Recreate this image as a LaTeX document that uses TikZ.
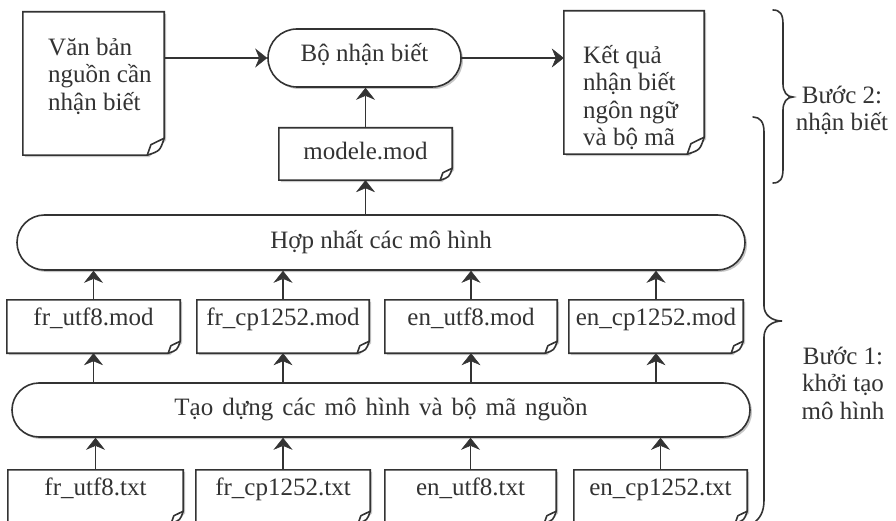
\documentclass[tikz,border=0pt]{standalone}
\usepackage{fontspec}
\setmainfont{Liberation Serif}
\usetikzlibrary{arrows.meta,backgrounds,shadows,calc}
\colorlet{ink}{black!80}
\tikzset{
  line/.style={draw=ink, line width=1.6pt},
  arr/.style={draw=ink, fill=ink, line width=1.6pt,
    arrows={-Stealth[length=12pt,width=19pt,inset=4pt,line width=0.5pt]}},
  txt/.style={font=\fontsize{25}{27.5}\selectfont, text=ink},
  filebox/.style={txt, inner sep=0pt, minimum height=53pt, text height=25pt, text depth=28pt},
  term/.style={txt, line, fill=white, inner sep=0pt,
    drop shadow={shadow xshift=2pt, shadow yshift=-2pt, fill=gray!45, opacity=1}},
  label/.style={txt, inner sep=0pt, anchor=north},
}
% document outline with a curled corner: #1 node name, #2 corner size
\newcommand\docshape[2]{%
  \fill[gray!40] ([xshift=2pt,yshift=-2pt]#1.north west) -- ([xshift=2pt,yshift=-2pt]#1.north east)
     -- ([xshift=2pt,yshift=#2pt-2pt]#1.south east) -- ([xshift=-#2pt+2pt,yshift=-2pt]#1.south east)
     -- ([xshift=2pt,yshift=-2pt]#1.south west) -- cycle;
  \draw[line, fill=white] (#1.north west) -- (#1.north east) -- ([yshift=#2pt]#1.south east)
     .. controls ([xshift=-0.25*#2pt,yshift=0.25*#2pt]#1.south east) .. ([xshift=-#2pt]#1.south east)
     -- (#1.south west) -- cycle;
  \draw[line, line join=round] ([yshift=#2pt]#1.south east) -- ([xshift=-0.78*#2pt,yshift=0.62*#2pt]#1.south east)
     -- ([xshift=-#2pt]#1.south east);
}
\begin{document}
\begin{tikzpicture}[x=1pt,y=-1pt]
\useasboundingbox (0,0) rectangle (896,521);

% ---- step 2 ----
\node[inner sep=0pt, minimum width=141pt, minimum height=143pt] (d1) at (93.5,83.5) {};
\node[txt, align=left, anchor=north west, inner sep=0pt] (d1t) at (48,35.75)
  {\strut Văn bản\\\strut nguồn cần\\\strut nhận biết};
\node[term, rounded corners=29pt, minimum width=193pt, minimum height=58pt,
      text height=33pt, text depth=25pt] (bo) at (364.5,58) {Bộ nhận biết};
\node[inner sep=0pt, minimum width=140pt, minimum height=143pt] (d2) at (634,82.5) {};
\node[txt, align=left, anchor=north west, inner sep=0pt] (d2t) at (583,43.75)
  {\strut Kết quả\\\strut nhận biết\\\strut ngôn ngữ\\\strut và bộ mã};
\node[filebox, minimum width=173pt, minimum height=52pt, text height=32pt, text depth=20pt]
  (mo) at (365.5,154) {modele.mod};

% ---- step 1 ----
\node[term, rounded corners=27.5pt, minimum width=728pt, minimum height=55pt,
      text height=33pt, text depth=22pt] (hop) at (381,242.5) {Hợp nhất các mô hình};
\node[filebox, minimum width=173pt] (m1) at (93.5,326.5) {fr\_utf8.mod};
\node[filebox, minimum width=172pt] (m2) at (283,326.5) {fr\_cp1252.mod};
\node[filebox, minimum width=172pt] (m3) at (471,326.5) {en\_utf8.mod};
\node[filebox, minimum width=174pt] (m4) at (656,326.5) {en\_cp1252.mod};
\node[term, rounded corners=27pt, minimum width=738pt, minimum height=54pt,
      text height=32pt, text depth=22pt] (tao) at (381,410)
  {\spaceskip=9pt plus 1pt minus 1pt Tạo dựng các mô hình và bộ mã nguồn};
\node[filebox, minimum width=175pt] (t1) at (95.5,496.5) {fr\_utf8.txt};
\node[filebox, minimum width=174pt] (t2) at (283,496.5) {fr\_cp1252.txt};
\node[filebox, minimum width=171pt] (t3) at (470.5,496.5) {en\_utf8.txt};
\node[filebox, minimum width=173pt] (t4) at (660.5,496.5) {en\_cp1252.txt};

% labels
\node[label, align=center] (b2) at (842,83.75) {\strut Bước 2:\\\strut nhận biết};
\node[label, align=center] (b1) at (843,344.75) {\strut Bước 1:\\\strut khởi tạo\\\strut mô hình};

\begin{scope}[on background layer]
  \fill[white] (0,0) rectangle (896,521);
  \docshape{d1}{17}
  \docshape{d2}{17}
  \docshape{mo}{12}
  \docshape{m1}{12}\docshape{m2}{12}\docshape{m3}{12}\docshape{m4}{12}
  \docshape{t1}{12}\docshape{t2}{12}\docshape{t3}{12}\docshape{t4}{12}
\end{scope}

% connectors
\draw[arr] (bo.west -| d1.east) -- (bo.west);
\draw[arr] (bo.east) -- (bo.east -| d2.west);
\draw[arr] (mo.north) -- (mo.north |- bo.south);
\draw[arr] (mo.south |- hop.north) -- (mo.south);
\foreach \n in {m1,m2,m3,m4}{
  \draw[arr] (\n.north) -- (\n.north |- hop.south);
  \draw[arr] (\n.south |- tao.north) -- (\n.south);
}
\foreach \n in {t1,t2,t3,t4}{
  \draw[arr] (\n.north) -- (\n.north |- tao.south);
}

% braces
\draw[line, line cap=round] (773,10) .. controls (780,10) and (783,14) .. (783,24) -- (783,84)
  .. controls (783,92) and (787,97) .. (793,97) .. controls (787,97) and (783,102) .. (783,110)
  -- (783,169) .. controls (783,179) and (780,183) .. (773,183);
\draw[line, line cap=round] (753,117) .. controls (760,117) and (764,122) .. (764,132) -- (764,306)
  .. controls (764,315) and (772,321) .. (782,321) .. controls (772,321) and (764,327) .. (764,337)
  -- (764,500) .. controls (764,512) and (760,519) .. (752,524);
\end{tikzpicture}
\end{document}
